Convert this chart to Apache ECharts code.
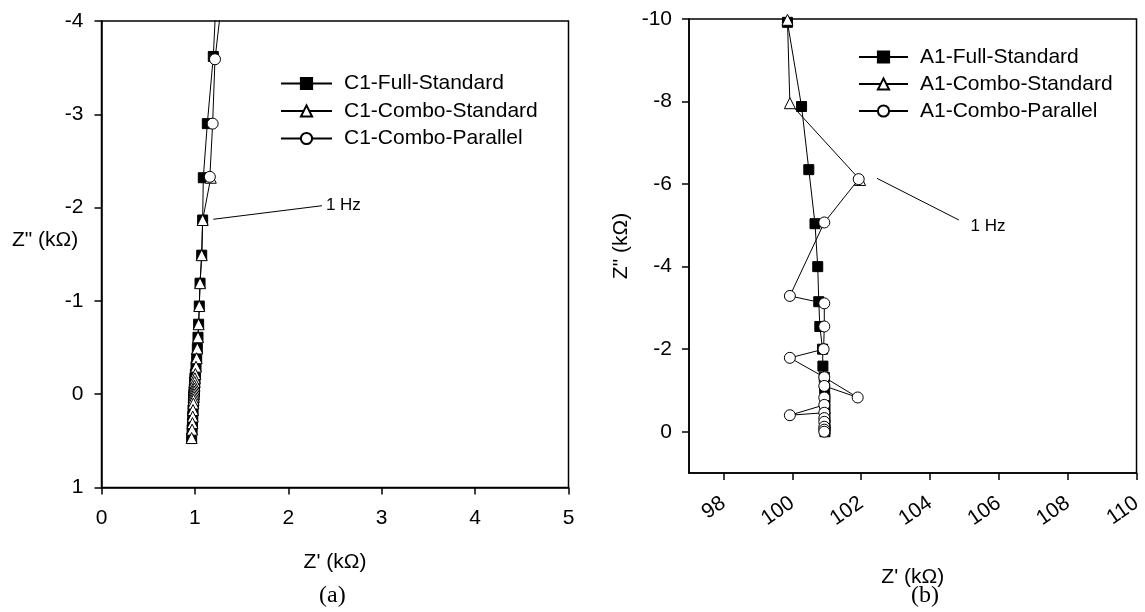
<!DOCTYPE html>
<html>
<head>
<meta charset="utf-8">
<script src="https://cdn.jsdelivr.net/npm/echarts@6/dist/echarts.min.js"></script>
<style>
html, body { margin: 0; background: #fff; }
#chart { width: 1145px; height: 612px; }
</style>
</head>
<body>
<div id="chart"></div>
<script>
// (a) C1 sample, [Z', Z''] in kOhm
var c1Full = [[1.24,-4.5],[1.197,-3.62],[1.133,-2.90],[1.09,-2.32],[1.083,-1.867],[1.073,-1.49],[1.055,-1.19],
  [1.047,-0.945],[1.04,-0.75],[1.033,-0.61],[1.026,-0.49],[1.019,-0.385],[1.012,-0.295],[1.005,-0.216],
  [1.0,-0.17],[0.998,-0.13],[0.996,-0.09],[0.994,-0.06],[0.992,-0.03],[0.99,0.0],[0.988,0.03],[0.986,0.06],
  [0.984,0.10],[0.98,0.17],[0.977,0.24],[0.974,0.31],[0.97,0.38],[0.965,0.47]];
var c1ComboStd = [[1.17,-2.32],[1.083,-1.867],[1.073,-1.49],[1.055,-1.19],
  [1.047,-0.945],[1.04,-0.75],[1.033,-0.61],[1.026,-0.49],[1.019,-0.385],[1.012,-0.295],[1.005,-0.216],
  [1.0,-0.17],[0.998,-0.13],[0.996,-0.09],[0.994,-0.06],[0.992,-0.03],[0.99,0.0],[0.988,0.03],[0.986,0.06],
  [0.984,0.10],[0.98,0.17],[0.977,0.24],[0.974,0.31],[0.97,0.38],[0.965,0.47]];
var c1ComboPar = [[1.32,-4.5],[1.215,-3.59],[1.19,-2.90],[1.16,-2.33]];
var c1Hz = [[1.197,-1.875],[2.36,-2.02]];

// (b) A1 sample
var a1Full = [[99.86,-9.92],[100.27,-7.88],[100.48,-6.35],[100.66,-5.04],[100.74,-4.0],[100.77,-3.15],
  [100.8,-2.55],[100.88,-2.0],[100.89,-1.59],[100.93,-1.32],[100.94,-1.05],[100.95,-0.8],[100.95,-0.55],
  [100.95,-0.35],[100.95,-0.18],[100.95,-0.06],[100.95,0.0]];
var a1ComboStd = [[99.86,-9.98],[99.93,-7.96],[101.97,-6.1]];
var a1ComboPar = [[101.93,-6.12],[100.93,-5.07],[99.93,-3.29],[100.93,-3.11],[100.93,-2.55],[100.91,-2.0],
  [99.93,-1.79],[100.93,-1.32],[101.9,-0.83],[100.93,-1.11],[100.93,-0.83],[100.93,-0.65],[99.93,-0.40],
  [100.93,-0.46],[100.93,-0.33],[100.93,-0.24],[100.93,-0.12],[100.93,-0.05],[100.93,0.0]];
var a1Hz = [[102.46,-6.14],[104.84,-5.13]];

var xTicksB = [98, 100, 102, 104, 106, 108, 110];
var yTicksB = [-10, -8, -6, -4, -2, 0];

var font = 'Liberation Sans, Arial, sans-serif';

function axisBase() {
    return {
        type: 'value',
        splitLine: { show: false },
        axisLine: { show: true, onZero: false, lineStyle: { color: '#000', width: 1.5 } },
        axisTick: { show: true, inside: false, length: 7, lineStyle: { color: '#000', width: 1.5 } },
        axisLabel: { color: '#000', fontSize: 21, fontFamily: font },
        nameTextStyle: { color: '#000', fontSize: 21, fontFamily: font }
    };
}

function mkSeries(name, data, symbol, fill, size, idx, z) {
    return {
        name: name,
        type: 'line',
        data: data,
        xAxisIndex: idx,
        yAxisIndex: idx,
        symbol: symbol,
        symbolSize: size,
        showAllSymbol: true,
        z: z,
        lineStyle: { color: '#000', width: 1 },
        itemStyle: { color: fill, borderColor: '#000', borderWidth: 1 },
        emphasis: { disabled: true }
    };
}

function hzLine(pts, dist) {
    return {
        silent: true,
        symbol: ['none', 'none'],
        animation: false,
        lineStyle: { color: '#000', width: 1, type: 'solid' },
        label: { show: true, position: 'end', formatter: '1 Hz', color: '#000', fontSize: 17, fontFamily: font, distance: dist },
        data: [[{ coord: pts[0] }, { coord: pts[1] }]]
    };
}

var xa = axisBase();
xa.gridIndex = 0; xa.min = 0; xa.max = 5; xa.interval = 1;
xa.name = "Z' (kΩ)"; xa.nameLocation = 'middle'; xa.nameGap = 64;
xa.axisLabel.margin = 20;

var ya = axisBase();
ya.gridIndex = 0; ya.min = -4; ya.max = 1; ya.interval = 1; ya.inverse = true;
ya.axisLabel.margin = 18;

var xb = axisBase();
xb.gridIndex = 1; xb.min = 97; xb.max = 110;
xb.axisTick.customValues = xTicksB;
xb.axisLabel.customValues = xTicksB;
xb.axisLabel.rotate = 35;
xb.axisLabel.margin = 28;
xb.name = "Z' (kΩ)"; xb.nameLocation = 'middle'; xb.nameGap = 94;

var yb = axisBase();
yb.gridIndex = 1; yb.min = -10; yb.max = 1; yb.inverse = true;
yb.axisTick.customValues = yTicksB;
yb.axisLabel.customValues = yTicksB;
yb.axisLabel.margin = 17;
yb.name = 'Z" (kΩ)'; yb.nameLocation = 'middle'; yb.nameGap = 57;

var sA1 = mkSeries('C1-Full-Standard', c1Full, 'rect', '#000', 10, 0, 2);
sA1.markLine = hzLine(c1Hz, 4);
var sB1 = mkSeries('A1-Full-Standard', a1Full, 'rect', '#000', 10, 1, 2);
sB1.markLine = hzLine(a1Hz, 13);

var legendText = { color: '#000', fontSize: 21, fontFamily: font, padding: [0, 0, 0, 7] };

var option = {
    animation: false,
    backgroundColor: '#fff',
    grid: [
        { left: 101.5, top: 21, width: 467, height: 466.5, show: true, borderColor: '#000', borderWidth: 1.5 },
        { left: 689, top: 19, width: 454, height: 454, show: true, borderColor: '#000', borderWidth: 1.5 }
    ],
    xAxis: [xa, xb],
    yAxis: [ya, yb],
    legend: [
        {
            data: ['C1-Full-Standard', 'C1-Combo-Standard', 'C1-Combo-Parallel'],
            orient: 'vertical', left: 275, top: 68, itemWidth: 51, itemHeight: 14, itemGap: 6.5,
            selectedMode: false, textStyle: legendText
        },
        {
            data: ['A1-Full-Standard', 'A1-Combo-Standard', 'A1-Combo-Parallel'],
            orient: 'vertical', left: 853, top: 41.5, itemWidth: 49, itemHeight: 14, itemGap: 6,
            selectedMode: false, textStyle: legendText
        }
    ],
    graphic: [
        { type: 'text', left: 12, top: 230, style: { text: 'Z" (kΩ)', font: '21px ' + font, fill: '#000' } },
        { type: 'text', left: 319, top: 584, style: { text: '(a)', font: '24px Liberation Serif, serif', fill: '#000' } },
        { type: 'text', left: 911, top: 584, style: { text: '(b)', font: '24px Liberation Serif, serif', fill: '#000' } }
    ],
    series: [
        sA1,
        mkSeries('C1-Combo-Standard', c1ComboStd, 'triangle', '#fff', 11, 0, 3),
        mkSeries('C1-Combo-Parallel', c1ComboPar, 'circle', '#fff', 11, 0, 4),
        sB1,
        mkSeries('A1-Combo-Standard', a1ComboStd, 'triangle', '#fff', 11, 1, 3),
        mkSeries('A1-Combo-Parallel', a1ComboPar, 'circle', '#fff', 11, 1, 4)
    ]
};

var myChart = echarts.init(document.getElementById('chart'));
myChart.setOption(option);
</script>
</body>
</html>
